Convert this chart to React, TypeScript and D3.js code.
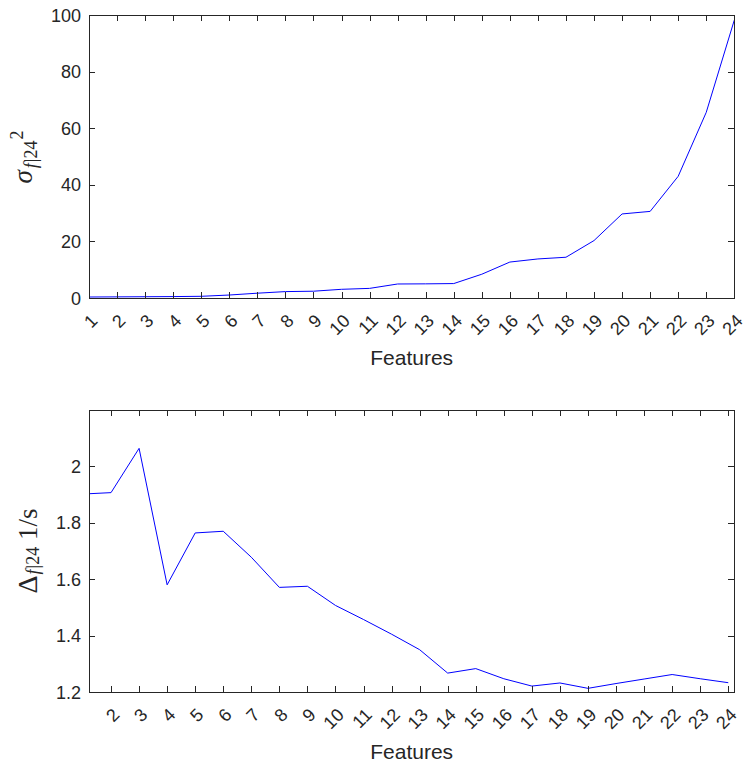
import React, { useEffect, useRef } from "react";
import * as d3 from "d3";

// feature index 1..24
const features = [1, 2, 3, 4, 5, 6, 7, 8, 9, 10, 11, 12, 13, 14, 15, 16, 17, 18, 19, 20, 21, 22, 23, 24];

// top panel: sigma_{f|24}^2
const sigmaSq = [0.35, 0.4, 0.45, 0.5, 0.6, 1.05, 1.7, 2.26, 2.4, 3.07, 3.4, 4.95, 5.0, 5.1, 8.4, 12.7, 13.8, 14.4, 20.3, 29.7, 30.6, 43.0, 65.6, 98.2];

// bottom panel: Delta_{f|24} 1/s
const deltaF = [1.902, 1.907, 2.064, 1.58, 1.764, 1.77, 1.678, 1.571, 1.575, 1.507, 1.457, 1.405, 1.35, 1.267, 1.283, 1.247, 1.221, 1.232, 1.213, 1.23, 1.246, 1.262, 1.247, 1.233];

const sigmaTicks = [0, 20, 40, 60, 80, 100];
const deltaTicks = [1.2, 1.4, 1.6, 1.8, 2];
const topXTicks = features;
const bottomXTicks = features.slice(1);

const axisColor = "#262626";
const sansFont = "'Liberation Sans', Arial, Helvetica, sans-serif";
const serifFont = "'Liberation Serif', 'Times New Roman', serif";

type Panel = {
  id: string;
  top: number;
  bottom: number;
  xDomain: [number, number];
  yDomain: [number, number];
  xTicks: number[];
  yTicks: number[];
  values: number[];
  label: (t: any) => void;
};

const left = 89;
const right = 734.3;
const tickLen = 6;

function drawPanel(svg: any, p: Panel) {
  const x = d3.scaleLinear().domain(p.xDomain).range([left, right]);
  const y = d3.scaleLinear().domain(p.yDomain).range([p.bottom, p.top]);
  const g = svg.append("g");

  g.append("clipPath").attr("id", "clip-" + p.id)
    .append("rect")
    .attr("x", left).attr("y", p.top)
    .attr("width", right - left).attr("height", p.bottom - p.top);

  const line = d3.line<number>()
    .x((d, i) => x(features[i]))
    .y(d => y(d));

  g.append("path")
    .attr("d", line(p.values))
    .attr("fill", "none")
    .attr("stroke", "#0000ff")
    .attr("stroke-width", 1)
    .attr("clip-path", `url(#clip-${p.id})`);

  // ticks, mirrored on all four sides
  const ticks = g.append("g").attr("stroke", axisColor).attr("stroke-width", 1).attr("shape-rendering", "crispEdges");
  p.xTicks.forEach(t => {
    const xx = Math.round(x(t)) + 0.5;
    ticks.append("line").attr("x1", xx).attr("x2", xx).attr("y1", p.bottom).attr("y2", p.bottom - tickLen);
    ticks.append("line").attr("x1", xx).attr("x2", xx).attr("y1", p.top).attr("y2", p.top + tickLen);
  });
  p.yTicks.forEach(t => {
    const yy = Math.round(y(t)) + 0.5;
    ticks.append("line").attr("x1", left).attr("x2", left + tickLen).attr("y1", yy).attr("y2", yy);
    ticks.append("line").attr("x1", right).attr("x2", right - tickLen).attr("y1", yy).attr("y2", yy);
  });

  g.append("rect")
    .attr("x", Math.round(left) + 0.5).attr("y", Math.round(p.top) + 0.5)
    .attr("width", Math.round(right - left)).attr("height", Math.round(p.bottom - p.top))
    .attr("fill", "none").attr("stroke", axisColor).attr("stroke-width", 1)
    .attr("shape-rendering", "crispEdges");

  // x tick labels, rotated 45deg
  g.selectAll("text.xt").data(p.xTicks).enter().append("text")
    .attr("class", "xt")
    .attr("transform", (d: number) => `translate(${x(d) + 9.5},${p.bottom + 24}) rotate(-45)`)
    .attr("text-anchor", "end")
    .attr("font-family", sansFont).attr("font-size", 18).attr("fill", axisColor)
    .text((d: number) => String(d));

  // y tick labels
  g.selectAll("text.yt").data(p.yTicks).enter().append("text")
    .attr("class", "yt")
    .attr("x", left - 8)
    .attr("y", (d: number) => y(d) + 6.5)
    .attr("text-anchor", "end")
    .attr("font-family", sansFont).attr("font-size", 18).attr("fill", axisColor)
    .text((d: number) => String(d));

  g.append("text")
    .attr("x", (left + right) / 2)
    .attr("y", p.bottom + 67)
    .attr("text-anchor", "middle")
    .attr("font-family", sansFont).attr("font-size", 21).attr("fill", axisColor)
    .text("Features");

  const yl = g.append("text")
    .attr("transform", `translate(33,${(p.top + p.bottom) / 2}) rotate(-90)`)
    .attr("text-anchor", "middle")
    .attr("font-family", serifFont).attr("fill", axisColor);
  p.label(yl);
}

export default function App() {
  const svgRef = useRef<SVGSVGElement>(null);

  useEffect(() => {
    const svg = d3.select(svgRef.current);
    svg.selectAll("*").remove();

    drawPanel(svg, {
      id: "top",
      top: 15,
      bottom: 298,
      xDomain: [1, 24],
      yDomain: [0, 100],
      xTicks: topXTicks,
      yTicks: sigmaTicks,
      values: sigmaSq,
      label: t => {
        t.attr("transform", `translate(32,157) rotate(-90)`);
        t.append("tspan").attr("font-style", "italic").attr("font-size", 27).text("σ");
        t.append("tspan").attr("font-size", 18).attr("dx", 2).attr("dy", 5).attr("font-style", "italic").text("f");
        t.append("tspan").attr("font-size", 18).attr("dx", 1).text("|24");
        t.append("tspan").attr("font-size", 18).attr("dx", 1).attr("dy", -14).text("2");
      }
    });

    drawPanel(svg, {
      id: "bottom",
      top: 410,
      bottom: 692,
      xDomain: [1.215, 24.215],
      yDomain: [1.2, 2.2],
      xTicks: bottomXTicks,
      yTicks: deltaTicks,
      values: deltaF,
      label: t => {
        t.attr("transform", `translate(37,551) rotate(-90)`);
        t.append("tspan").attr("font-size", 28).text("Δ");
        t.append("tspan").attr("font-size", 18).attr("dx", 1).attr("dy", 2).attr("font-style", "italic").text("f");
        t.append("tspan").attr("font-size", 18).attr("dx", 1).text("|24");
        t.append("tspan").attr("font-size", 27).attr("dy", -2).text(" 1/s");
      }
    });
  }, []);

  return (
    <div style={{ position: "absolute", left: 0, top: 0 }}>
      <svg ref={svgRef} width={747} height={764} style={{ display: "block", background: "#fff" }}></svg>
    </div>
  );
}
